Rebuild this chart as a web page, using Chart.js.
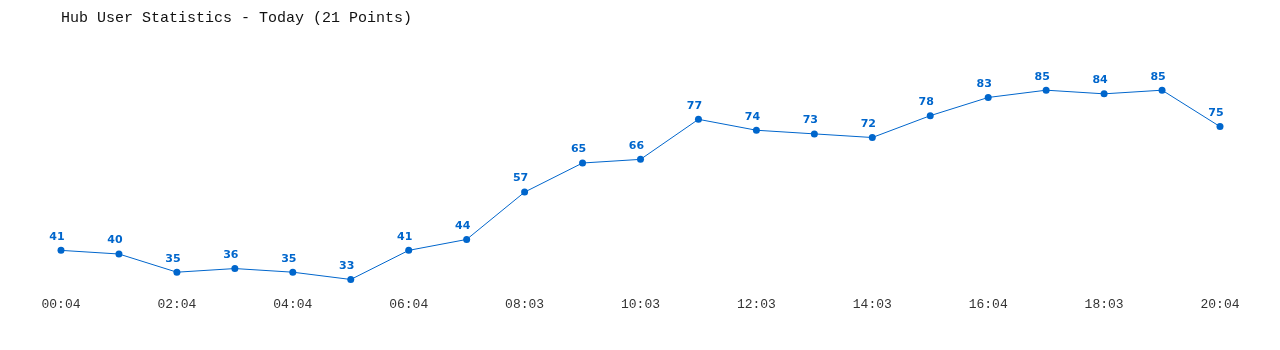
<!DOCTYPE html>
<html><head><meta charset="utf-8">
<script src="https://cdn.jsdelivr.net/npm/chart.js@4"></script>
<style>html,body{margin:0;padding:0;background:#fff;}canvas{display:block;}</style>
</head><body>
<canvas id="c" width="1280" height="350"></canvas>
<script>
const times = ["00:04","01:04","02:04","03:04","04:04","05:04","06:04","07:04","08:03","09:03","10:03","11:03","12:03","13:03","14:03","15:03","16:04","17:04","18:03","19:03","20:04"];
const users = [41,40,35,36,35,33,41,44,57,65,66,77,74,73,72,78,83,85,84,85,75];
const titleText = "Hub User Statistics - Today (21 Points)";
const blue = "#0066cc";

const valueLabels = {
  id: "valueLabels",
  afterDatasetsDraw(chart) {
    const ctx = chart.ctx;
    const meta = chart.getDatasetMeta(0);
    ctx.save();
    ctx.font = "bold 11px 'DejaVu Sans', Verdana, sans-serif";
    ctx.fillStyle = blue;
    ctx.textAlign = "center";
    ctx.textBaseline = "bottom";
    meta.data.forEach((pt, i) => {
      ctx.fillText(String(users[i]), pt.x - 4, pt.y - 8);
    });
    ctx.restore();
  }
};

new Chart(document.getElementById("c"), {
  type: "line",
  data: {
    labels: times,
    datasets: [{
      data: users,
      borderColor: blue,
      backgroundColor: blue,
      borderWidth: 1,
      pointRadius: 3.5,
      pointBorderWidth: 0,
      pointBackgroundColor: blue,
      tension: 0
    }]
  },
  options: {
    responsive: false,
    animation: false,
    layout: { padding: { left: 61, right: 60, top: 7, bottom: 32 } },
    plugins: {
      legend: { display: false },
      tooltip: { enabled: false },
      title: {
        display: true,
        text: titleText,
        align: "start",
        color: "#111",
        font: { family: "'Liberation Mono', monospace", size: 15, weight: "normal" },
        padding: { top: 2, bottom: 45 }
      }
    },
    scales: {
      x: {
        offset: false,
        grid: { display: false, drawTicks: false },
        border: { display: false },
        ticks: {
          autoSkip: false,
          maxRotation: 0,
          padding: 6,
          color: "#333",
          font: { family: "'Liberation Mono', monospace", size: 13 },
          callback: function(v, i) { return i % 2 === 0 ? times[i] : ""; }
        }
      },
      y: {
        display: false,
        min: 30,
        max: 90
      }
    }
  },
  plugins: [valueLabels]
});
</script>
</body></html>
